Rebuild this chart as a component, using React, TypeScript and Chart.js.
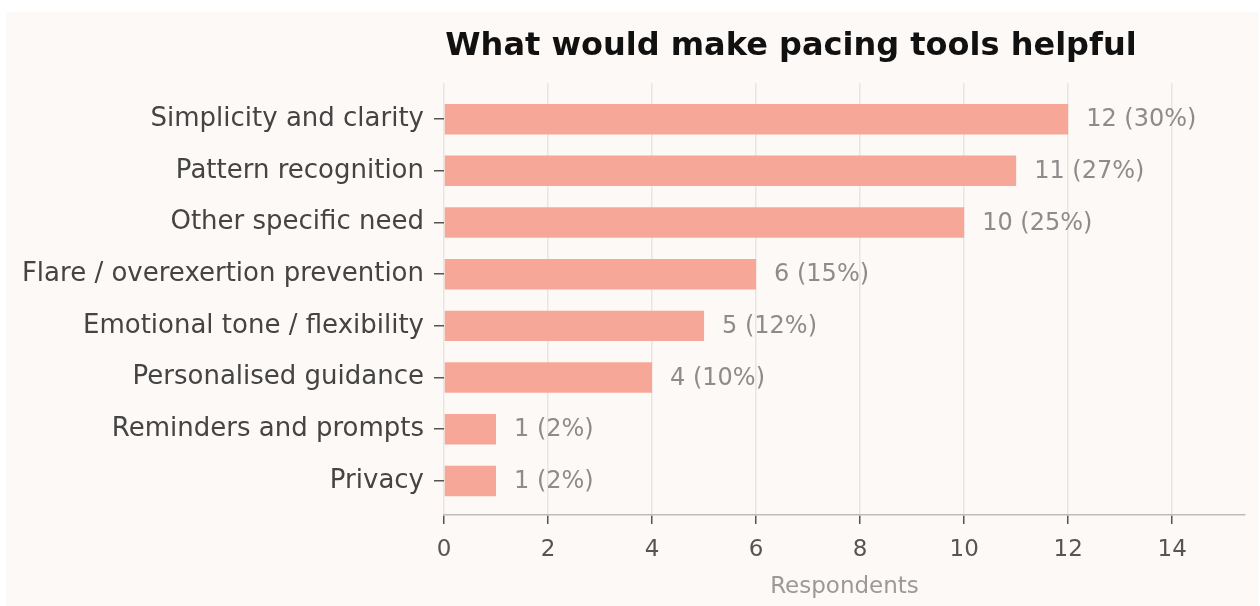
import React, { useEffect, useRef } from "react";
import { Chart, registerables } from "chart.js";

Chart.register(...registerables);

const categories = [
  "Simplicity and clarity",
  "Pattern recognition",
  "Other specific need",
  "Flare / overexertion prevention",
  "Emotional tone / flexibility",
  "Personalised guidance",
  "Reminders and prompts",
  "Privacy",
];
const counts = [12, 11, 10, 6, 5, 4, 1, 1];
const percents = [30, 27, 25, 15, 12, 10, 2, 2];
const xTicks = [0, 2, 4, 6, 8, 10, 12, 14];
const titleText = "What would make pacing tools helpful";
const xTitle = "Respondents";

const FONT = "'DejaVu Sans', sans-serif";

export default function App() {
  const ref = useRef<HTMLCanvasElement | null>(null);

  useEffect(() => {
    const canvas = ref.current;
    if (!canvas) return;

    const bgPlugin = {
      id: "bgPanel",
      beforeDraw(chart: any) {
        const { ctx, width, height } = chart;
        ctx.save();
        ctx.fillStyle = "#ffffff";
        ctx.fillRect(0, 0, width, height);
        ctx.fillStyle = "#fdf9f6";
        ctx.fillRect(6, 12, width - 7, height - 12);
        ctx.restore();
      },
    };

    const titlePlugin = {
      id: "titleText",
      afterDraw(chart: any) {
        const { ctx, chartArea } = chart;
        ctx.save();
        ctx.font = `bold 32px ${FONT}`;
        ctx.fillStyle = "#111111";
        ctx.textAlign = "center";
        ctx.textBaseline = "middle";
        ctx.fillText(titleText, chartArea.left + 347, 47);
        ctx.restore();
      },
    };

    const valuePlugin = {
      id: "valueLabels",
      afterDatasetsDraw(chart: any) {
        const { ctx } = chart;
        const meta = chart.getDatasetMeta(0);
        ctx.save();
        ctx.font = `24px ${FONT}`;
        ctx.fillStyle = "#8c8c8c";
        ctx.textAlign = "left";
        ctx.textBaseline = "middle";
        meta.data.forEach((bar: any, i: number) => {
          ctx.fillText(`${counts[i]} (${percents[i]}%)`, bar.x + 18, bar.y + 1);
        });
        ctx.restore();
      },
    };

    const chart = new Chart(canvas, {
      type: "bar",
      data: {
        datasets: [
          {
            data: counts.map((v, i) => ({ x: v, y: i })),
            backgroundColor: "#f7a797",
            borderWidth: 0,
            barPercentage: 0.59,
            categoryPercentage: 1,
          },
        ],
      },
      options: {
        indexAxis: "y",
        responsive: false,
        animation: false,
        devicePixelRatio: 1,
        layout: { padding: { left: 0, top: 83, right: 15, bottom: 0 } },
        plugins: {
          legend: { display: false },
          tooltip: { enabled: false },
          title: { display: false },
        },
        scales: {
          x: {
            type: "linear",
            min: 0,
            max: 15.4,
            afterBuildTicks(scale: any) {
              scale.ticks = xTicks.map((v) => ({ value: v }));
            },
            afterFit(scale: any) {
              scale.height = 91;
            },
            ticks: {
              color: "#555555",
              font: { family: FONT, size: 23 },
              padding: 12,
            },
            grid: {
              color: "#e9e5e1",
              lineWidth: 1.5,
              tickColor: "#555555",
              tickLength: 9,
              tickWidth: 1.5,
            },
            border: { display: true, color: "#bdbdbd", width: 1.5 },
            title: {
              display: true,
              text: xTitle,
              color: "#9a9a9a",
              font: { family: FONT, size: 23 },
              padding: { top: 0, bottom: 5 },
            },
          },
          y: {
            type: "linear",
            reverse: true,
            offset: false,
            min: -0.7,
            max: 7.66,
            afterBuildTicks(scale: any) {
              scale.ticks = categories.map((_, i) => ({ value: i }));
            },
            afterFit(scale: any) {
              scale.width = 444;
            },
            ticks: {
              color: "#444444",
              font: { family: FONT, size: 26 },
              padding: 10,
              callback: (v: any) => categories[v as number] ?? "",
            },
            grid: {
              offset: false,
              drawOnChartArea: false,
              color: "#555555",
              tickLength: 10,
              lineWidth: 1.5,
            },
            border: { display: false },
          },
        },
      },
      plugins: [bgPlugin, titlePlugin, valuePlugin],
    } as any);

    return () => chart.destroy();
  }, []);

  return (
    <div style={{ position: "absolute", left: 0, top: 0, width: 1260, height: 606 }}>
      <canvas ref={ref} width={1260} height={606} style={{ display: "block" }} />
    </div>
  );
}
